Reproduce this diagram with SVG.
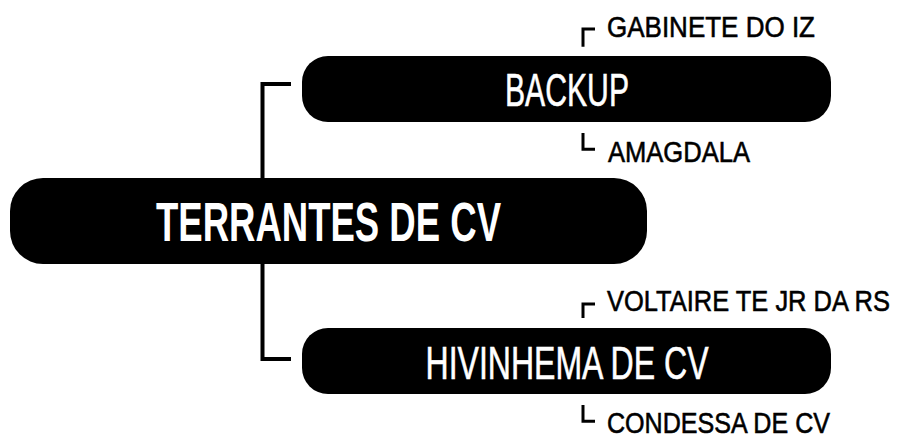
<svg xmlns="http://www.w3.org/2000/svg" width="897" height="439" viewBox="0 0 897 439">
  <style>
    .pill { fill: #000; }
    .main { font-family: "Liberation Sans", Arial, sans-serif; fill: #fff; text-anchor: middle; }
    .child { font-family: "Liberation Sans", Arial, sans-serif; fill: #000; stroke: #000; stroke-width: 0.6; font-size: 30px; }
    .br { fill: none; stroke: #000; stroke-width: 3; }
    .trunk { fill: none; stroke: #000; stroke-width: 4; }
  </style>
  <rect width="897" height="439" fill="#fff"/>
  <g id="connectors">
    <path class="trunk" d="M291,84 H262.5 V359 H291"/>
    <path class="br" d="M583,46.7 V29 H595"/>
    <path class="br" d="M583,133 V149.3 H595"/>
    <path class="br" d="M583,318 V304 H595"/>
    <path class="br" d="M583,405 V421.3 H595"/>
  </g>
  <g id="terrantes">
    <rect class="pill" x="10" y="178" width="637" height="86" rx="33" ry="33"/>
    <text class="main" x="328.5" y="240.5" font-size="55" font-weight="bold" textLength="345" lengthAdjust="spacingAndGlyphs">TERRANTES DE CV</text>
  </g>
  <g id="backup">
    <rect class="pill" x="302" y="56" width="529" height="66" rx="26" ry="26"/>
    <text class="main" x="567" y="106" font-size="46" stroke="#fff" stroke-width="0.6" textLength="124" lengthAdjust="spacingAndGlyphs">BACKUP</text>
  </g>
  <g id="hivinhema">
    <rect class="pill" x="302" y="328" width="529" height="66" rx="26" ry="26"/>
    <text class="main" x="567" y="379" font-size="46" stroke="#fff" stroke-width="0.6" textLength="283" lengthAdjust="spacingAndGlyphs">HIVINHEMA DE CV</text>
  </g>
  <g id="gabinete">
    <text class="child" x="607" y="37" textLength="208" lengthAdjust="spacingAndGlyphs">GABINETE DO IZ</text>
  </g>
  <g id="amagdala">
    <text class="child" x="608" y="162" textLength="142" lengthAdjust="spacingAndGlyphs">AMAGDALA</text>
  </g>
  <g id="voltaire">
    <text class="child" x="890" y="311" text-anchor="end" textLength="283" lengthAdjust="spacingAndGlyphs">VOLTAIRE TE JR DA RS</text>
  </g>
  <g id="condessa">
    <text class="child" x="607" y="432.5" textLength="223" lengthAdjust="spacingAndGlyphs">CONDESSA DE CV</text>
  </g>
</svg>
